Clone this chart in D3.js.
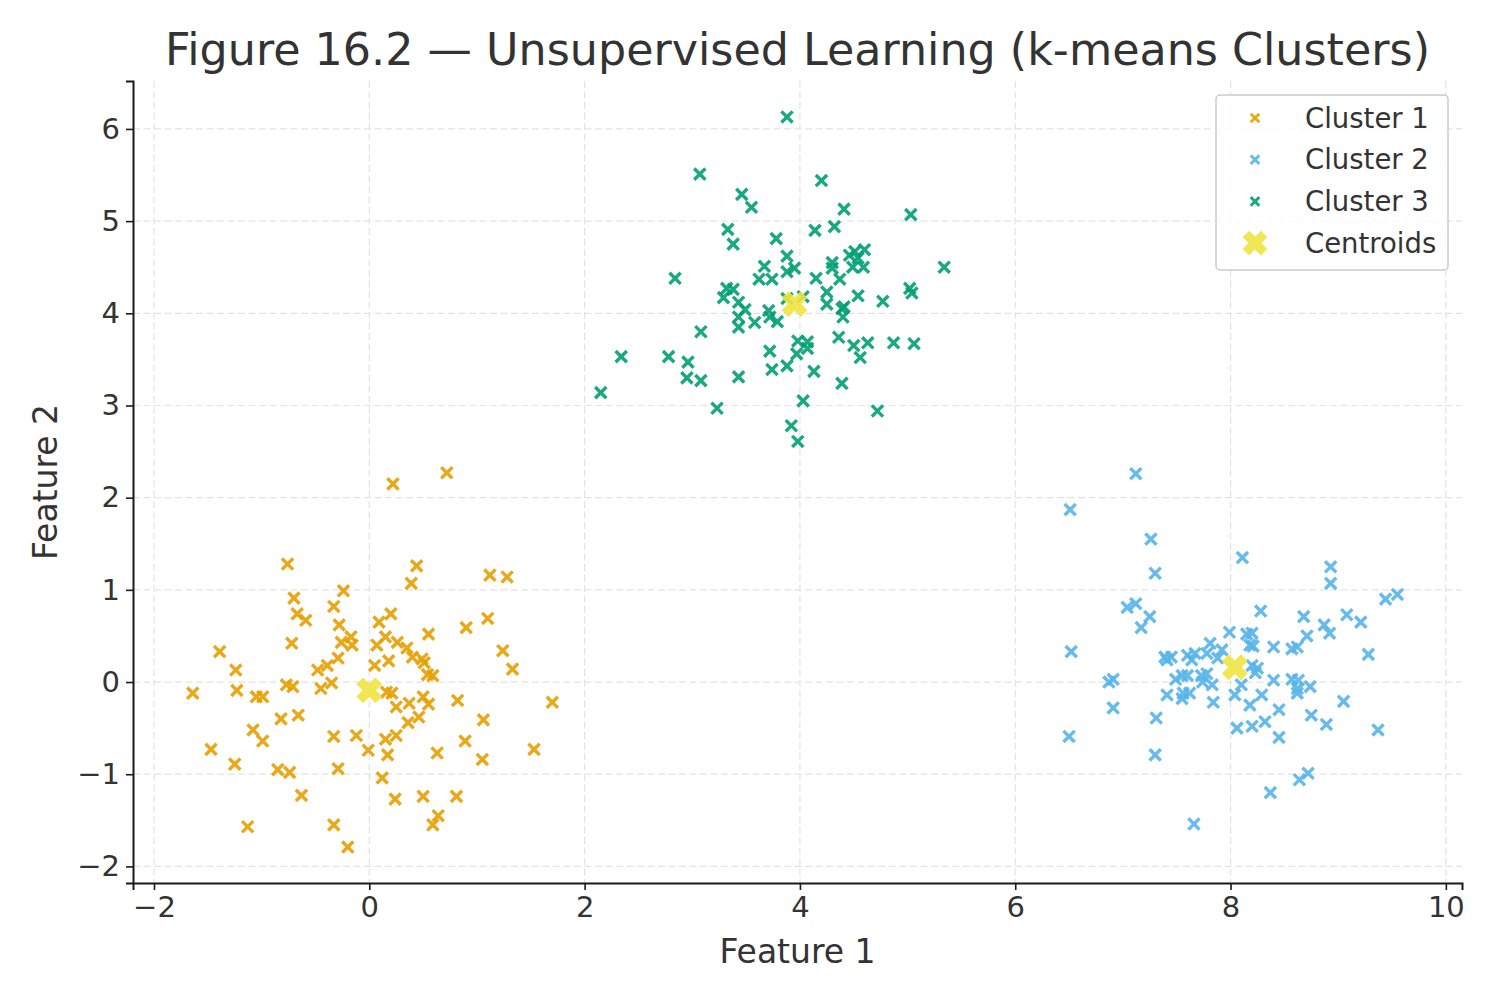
<!DOCTYPE html>
<html>
<head>
<meta charset="utf-8">
<script src="https://cdn.jsdelivr.net/npm/d3@7"></script>
<style>
  body { margin: 0; background: #fff; }
  text { font-family: "DejaVu Sans", sans-serif; }
</style>
</head>
<body>
<svg id="chart" width="1500" height="1000"></svg>
<script>
// data
const cluster1X = [0.22, 0.72, -0.76, 0.44, -0.70, 1.12, 1.28, 0.39, -0.24, -0.33, -0.67, -0.59, 1.10, -0.72, -1.39, 0.09, 0.20, -0.28, 0.15, 0.55, 0.90, 1.24, 1.33, -1.24, -1.64, -1.23, -1.05, -0.99, -0.77, -0.71, -0.48, -0.39, -0.29, -0.26, -0.17, -0.16, -0.45, -0.35, 0.05, 0.07, 0.18, 0.26, 0.35, 0.40, 0.49, 0.51, 0.54, 0.59, 0.16, 0.21, 0.25, 0.37, 0.46, 0.36, 0.55, 0.50, 0.82, 1.70, 1.06, -1.08, -1.47, -0.99, -0.66, -0.82, -0.33, -0.12, -0.01, 0.15, 0.25, 0.17, 0.63, 0.89, 1.05, 1.53, -1.25, -0.85, -0.74, -0.29, 0.12, -0.63, 0.24, 0.50, 0.81, -1.13, -0.33, 0.64, 0.59, -0.20];
const cluster1Y = [2.15, 2.27, 1.28, 1.26, 0.91, 1.16, 1.14, 1.07, 0.99, 0.82, 0.74, 0.67, 0.69, 0.42, 0.33, 0.65, 0.74, 0.62, 0.49, 0.52, 0.59, 0.34, 0.14, 0.13, -0.12, -0.09, -0.16, -0.16, -0.03, -0.05, 0.13, 0.18, 0.26, 0.43, 0.49, 0.40, -0.07, -0.01, 0.18, 0.40, 0.23, 0.43, 0.37, 0.27, 0.25, 0.21, 0.08, 0.07, -0.11, -0.12, -0.27, -0.23, -0.38, -0.44, -0.24, -0.16, -0.20, -0.22, -0.41, -0.52, -0.73, -0.64, -0.36, -0.40, -0.59, -0.58, -0.74, -0.62, -0.58, -0.79, -0.77, -0.64, -0.84, -0.73, -0.89, -0.95, -0.98, -0.94, -1.04, -1.23, -1.27, -1.24, -1.24, -1.57, -1.55, -1.45, -1.55, -1.79];

const cluster2X = [7.12, 6.51, 7.26, 7.30, 8.11, 7.04, 7.12, 7.25, 7.17, 6.52, 7.99, 8.15, 7.81, 7.92, 8.18, 7.39, 7.45, 7.60, 7.67, 7.78, 8.93, 8.93, 9.44, 9.55, 8.28, 8.68, 9.08, 9.21, 8.87, 8.92, 8.71, 8.20, 8.21, 8.40, 8.57, 8.62, 9.28, 7.41, 7.64, 7.88, 6.87, 6.91, 7.49, 7.55, 7.60, 7.73, 7.78, 7.74, 7.83, 7.41, 7.55, 7.62, 7.56, 7.84, 8.04, 8.10, 8.18, 6.91, 7.31, 6.50, 8.06, 8.20, 7.30, 7.66, 8.20, 8.25, 8.23, 8.40, 8.57, 8.63, 8.62, 8.74, 8.62, 8.29, 8.45, 9.05, 8.75, 8.89, 9.37, 8.32, 8.45, 8.72, 8.64, 8.37];
const cluster2Y = [2.26, 1.87, 1.55, 1.18, 1.35, 0.81, 0.85, 0.71, 0.59, 0.33, 0.54, 0.52, 0.42, 0.35, 0.40, 0.27, 0.27, 0.29, 0.31, 0.31, 1.25, 1.07, 0.90, 0.95, 0.77, 0.71, 0.73, 0.65, 0.62, 0.53, 0.50, 0.53, 0.39, 0.38, 0.36, 0.38, 0.30, 0.24, 0.24, 0.26, 0.00, 0.03, 0.03, 0.07, 0.07, 0.07, 0.09, 0.00, -0.03, -0.14, -0.18, -0.12, -0.12, -0.22, -0.14, -0.03, -0.25, -0.28, -0.39, -0.59, -0.50, -0.48, -0.79, -1.54, 0.18, 0.15, 0.10, 0.02, 0.03, 0.02, -0.07, -0.05, -0.12, -0.14, -0.30, -0.21, -0.36, -0.46, -0.52, -0.43, -0.60, -0.99, -1.06, -1.20];

const cluster3X = [3.88, 3.07, 3.46, 3.55, 4.20, 4.41, 5.03, 3.33, 3.38, 3.78, 4.14, 4.32, 3.67, 2.84, 3.62, 3.74, 3.88, 3.88, 3.95, 4.15, 4.30, 4.30, 4.46, 4.51, 4.60, 4.54, 4.49, 4.59, 5.34, 4.37, 3.32, 3.38, 3.29, 3.43, 3.49, 3.43, 3.43, 3.58, 3.71, 3.72, 3.79, 3.08, 2.34, 2.78, 2.96, 3.72, 2.95, 3.08, 3.43, 3.74, 2.15, 3.23, 4.25, 4.25, 4.54, 4.77, 5.02, 5.04, 4.39, 4.41, 4.40, 4.36, 3.98, 4.07, 4.07, 4.50, 4.63, 4.87, 5.06, 3.97, 4.56, 3.88, 4.13, 4.39, 4.03, 4.72, 3.92, 3.98, 3.88, 4.03];
const cluster3Y = [6.13, 5.51, 5.29, 5.15, 5.44, 5.13, 5.07, 4.91, 4.75, 4.81, 4.90, 4.94, 4.51, 4.38, 4.37, 4.37, 4.62, 4.45, 4.49, 4.38, 4.55, 4.49, 4.63, 4.67, 4.69, 4.60, 4.50, 4.50, 4.50, 4.37, 4.27, 4.26, 4.17, 4.12, 4.04, 3.96, 3.85, 3.90, 4.03, 3.96, 3.91, 3.80, 3.53, 3.53, 3.47, 3.59, 3.30, 3.27, 3.31, 3.39, 3.14, 2.97, 4.23, 4.10, 4.19, 4.13, 4.27, 4.22, 4.05, 4.07, 3.96, 3.74, 3.70, 3.69, 3.62, 3.65, 3.68, 3.68, 3.67, 3.56, 3.52, 3.43, 3.37, 3.24, 3.05, 2.94, 2.78, 2.61, 4.16, 4.18];

const centroidX = [0.00, 8.04, 3.95];
const centroidY = [-0.09, 0.16, 4.10];

const seriesNames = ["Cluster 1", "Cluster 2", "Cluster 3"];
const seriesColors = ["#E69F00", "#56B4E9", "#009E73"];
const xTicks = [-2, 0, 2, 4, 6, 8, 10];
const yTicks = [-2, -1, 0, 1, 2, 3, 4, 5, 6];

const series = [
    { name: seriesNames[0], color: seriesColors[0], pts: cluster1X.map((x, i) => [x, cluster1Y[i]]) },
    { name: seriesNames[1], color: seriesColors[1], pts: cluster2X.map((x, i) => [x, cluster2Y[i]]) },
    { name: seriesNames[2], color: seriesColors[2], pts: cluster3X.map((x, i) => [x, cluster3Y[i]]) }
];
const centroids = centroidX.map((x, i) => [x, centroidY[i]]);

// plot box
const margin = { left: 133, right: 38, top: 81, bottom: 117 };
const W = 1500, H = 1000;
const textColor = "#333333";

const x = d3.scaleLinear().domain([-2.195, 10.15]).range([margin.left, W - margin.right]);
const y = d3.scaleLinear().domain([-2.18, 6.52]).range([H - margin.bottom, margin.top]);

const svg = d3.select("#chart");

// marker shapes
const crossPath = (h) => `M${-h},${-h}L${h},${h}M${-h},${h}L${h},${-h}`;
const filledX = (L, w) => {
    const pts = [[w, L], [w, w], [L, w], [L, -w], [w, -w], [w, -L], [-w, -L], [-w, -w], [-L, -w], [-L, w], [-w, w], [-w, L]];
    const c = Math.SQRT1_2;
    return "M" + pts.map(([a, b]) => `${(a - b) * c},${(a + b) * c}`).join("L") + "Z";
};

// grid
const grid = svg.append("g").attr("class", "grid");
grid.selectAll(".gx").data(xTicks).join("line")
    .attr("x1", d => x(d)).attr("x2", d => x(d))
    .attr("y1", y.range()[1]).attr("y2", y.range()[0]);
grid.selectAll(".gy").data(yTicks).join("line")
    .attr("y1", d => y(d)).attr("y2", d => y(d))
    .attr("x1", x.range()[0]).attr("x2", x.range()[1]);
grid.selectAll("line")
    .attr("stroke", "#e3e3e3")
    .attr("stroke-width", 1.2)
    .attr("stroke-dasharray", "7,3.5");

// points
series.forEach(s => {
    svg.append("g")
        .selectAll("path")
        .data(s.pts)
        .join("path")
        .attr("transform", d => `translate(${x(d[0])},${y(d[1])})`)
        .attr("d", crossPath(5.6))
        .attr("stroke", s.color)
        .attr("stroke-width", 3.4)
        .attr("fill", "none")
        .attr("opacity", 0.9);
});

// centroids
svg.append("g")
    .selectAll("path")
    .data(centroids)
    .join("path")
    .attr("transform", d => `translate(${x(d[0])},${y(d[1])})`)
    .attr("d", filledX(13.5, 4.8))
    .attr("fill", "#F0E442")
    .attr("opacity", 0.9);

// axes
const xAxis = svg.append("g")
    .attr("transform", `translate(0,${H - margin.bottom})`)
    .call(d3.axisBottom(x).tickValues(xTicks).tickSize(7).tickPadding(6));
const yAxis = svg.append("g")
    .attr("transform", `translate(${margin.left},0)`)
    .call(d3.axisLeft(y).tickValues(yTicks).tickSize(7).tickPadding(6));

[xAxis, yAxis].forEach(a => {
    a.select(".domain").attr("stroke", "#1a1a1a").attr("stroke-width", 2);
    a.selectAll(".tick line").attr("stroke", "#1a1a1a").attr("stroke-width", 1.6);
    a.selectAll(".tick text")
        .attr("font-family", "DejaVu Sans")
        .attr("font-size", 29)
        .attr("fill", textColor);
});

// title and labels
svg.append("text")
    .attr("x", (x.range()[0] + x.range()[1]) / 2)
    .attr("y", 65)
    .attr("text-anchor", "middle")
    .attr("font-size", 44.4)
    .attr("fill", textColor)
    .text("Figure 16.2 — Unsupervised Learning (k-means Clusters)");

svg.append("text")
    .attr("x", (x.range()[0] + x.range()[1]) / 2)
    .attr("y", 963)
    .attr("text-anchor", "middle")
    .attr("font-size", 33)
    .attr("fill", textColor)
    .text("Feature 1");

svg.append("text")
    .attr("transform", `translate(57,${(y.range()[0] + y.range()[1]) / 2})rotate(-90)`)
    .attr("text-anchor", "middle")
    .attr("font-size", 33)
    .attr("fill", textColor)
    .text("Feature 2");

// legend
const legend = svg.append("g").attr("transform", "translate(1216,95)");
legend.append("rect")
    .attr("width", 232).attr("height", 175)
    .attr("rx", 4)
    .attr("fill", "#fff").attr("fill-opacity", 0.8)
    .attr("stroke", "#cccccc").attr("stroke-width", 1.5);

const legendItems = series.map(s => ({ name: s.name, color: s.color, centroid: false }))
    .concat([{ name: "Centroids", color: "#F0E442", centroid: true }]);

const item = legend.selectAll(".item")
    .data(legendItems)
    .join("g")
    .attr("transform", (d, i) => `translate(0,${23 + i * 41.7})`);

item.append("path")
    .attr("transform", "translate(39,0)")
    .attr("d", d => d.centroid ? filledX(13, 4.6) : crossPath(4.3))
    .attr("stroke", d => d.centroid ? "none" : d.color)
    .attr("stroke-width", 2.9)
    .attr("fill", d => d.centroid ? d.color : "none")
    .attr("opacity", 0.9);

item.append("text")
    .attr("x", 89)
    .attr("dy", "0.35em")
    .attr("font-size", 27.5)
    .attr("fill", textColor)
    .text(d => d.name);
</script>
</body>
</html>
